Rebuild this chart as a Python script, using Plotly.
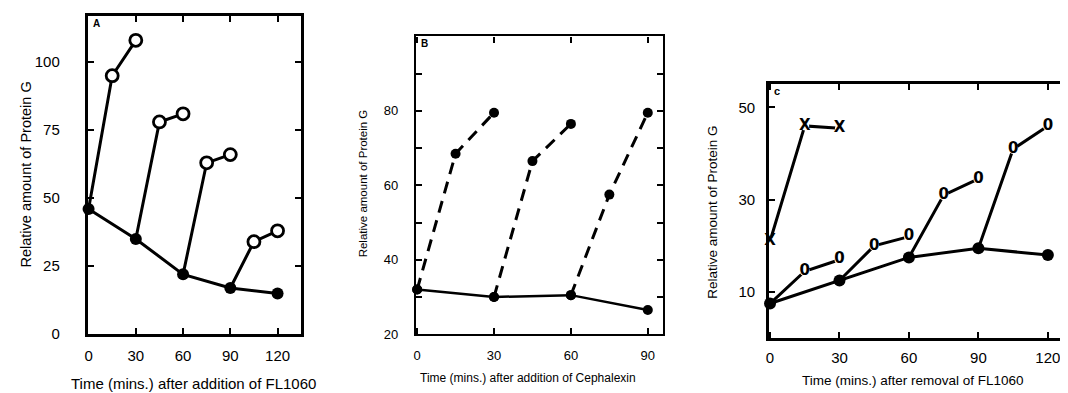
import plotly.graph_objects as go

W, H = 1068, 393

# ---------------- data ----------------
# Panel A: addition of FL1060
A_times = [0, 30, 60, 90, 120]
A_treated = [46, 35, 22, 17, 15]
A_branch_x = [[15, 30], [45, 60], [75, 90], [105, 120]]
A_branch_y = [[95, 108], [78, 81], [63, 66], [34, 38]]
A_xticks = [0, 30, 60, 90, 120]
A_xticklabels = ["0", "30", "60", "90", "120"]
A_yticks = [0, 25, 50, 75, 100]
A_yticklabels = ["0", "25", "50", "75", "100"]

# Panel B: addition of Cephalexin
B_times = [0, 30, 60, 90]
B_treated = [32, 30, 30.5, 26.5]
B_branch_x = [[15, 30], [45, 60], [75, 90]]
B_branch_y = [[68.5, 79.5], [66.5, 76.5], [57.5, 79.5]]
B_xticks = [0, 30, 60, 90]
B_xticklabels = ["0", "30", "60", "90"]
B_yticks = [20, 30, 40, 50, 60, 70, 80, 90]
B_yticklabels = ["20", "", "40", "", "60", "", "80", ""]

# Panel C: removal of FL1060
C_times = [0, 30, 60, 90, 120]
C_treated = [7.5, 12.5, 17.5, 19.5, 18]
C_branch_x = [[15, 30], [45, 60], [75, 90], [105, 120]]
C_branch_y = [[14.5, 17], [20, 22], [31, 34.5], [41, 46]]
C_x_x = [0, 15, 30]
C_x_y = [21, 46, 45.5]
C_xticks = [0, 30, 60, 90, 120]
C_xticklabels = ["0", "30", "60", "90", "120"]
C_yticks = [10, 30, 50]
C_yticklabels = ["10", "30", "50"]

FONT = "Liberation Sans"

def px_x(p):
    return p / W

def px_y(p):
    return 1 - p / H

fig = go.Figure()

# ---------- Panel A ----------
for i, (bx, by) in enumerate(zip(A_branch_x, A_branch_y)):
    fig.add_trace(go.Scatter(x=[A_times[i]] + bx, y=[A_treated[i]] + by, mode="lines",
                             line=dict(color="black", width=3), xaxis="x", yaxis="y",
                             showlegend=False, hoverinfo="skip", cliponaxis=False))
fig.add_trace(go.Scatter(x=A_times, y=A_treated, mode="lines+markers",
                         line=dict(color="black", width=3),
                         marker=dict(color="black", size=12, symbol="circle"),
                         xaxis="x", yaxis="y", showlegend=False, cliponaxis=False))
fig.add_trace(go.Scatter(x=[v for b in A_branch_x for v in b], y=[v for b in A_branch_y for v in b],
                         mode="markers",
                         marker=dict(color="white", size=12, symbol="circle",
                                     line=dict(color="black", width=2.8)),
                         xaxis="x", yaxis="y", showlegend=False, cliponaxis=False))

# ---------- Panel B ----------
for i, (bx, by) in enumerate(zip(B_branch_x, B_branch_y)):
    fig.add_trace(go.Scatter(x=[B_times[i]] + bx, y=[B_treated[i]] + by, mode="lines+markers",
                             line=dict(color="black", width=3, dash="12px,8px"),
                             marker=dict(color="black", size=10),
                             xaxis="x2", yaxis="y2", showlegend=False, cliponaxis=False))
fig.add_trace(go.Scatter(x=B_times, y=B_treated, mode="lines+markers",
                         line=dict(color="black", width=2.5),
                         marker=dict(color="black", size=10),
                         xaxis="x2", yaxis="y2", showlegend=False, cliponaxis=False))

# ---------- Panel C ----------
for i, (bx, by) in enumerate(zip(C_branch_x, C_branch_y)):
    fig.add_trace(go.Scatter(x=[C_times[i]] + bx, y=[C_treated[i]] + by, mode="lines",
                             line=dict(color="black", width=3),
                             xaxis="x3", yaxis="y3", showlegend=False, cliponaxis=False))
fig.add_trace(go.Scatter(x=C_x_x, y=C_x_y, mode="lines",
                         line=dict(color="black", width=3),
                         xaxis="x3", yaxis="y3", showlegend=False, cliponaxis=False))
fig.add_trace(go.Scatter(x=C_times, y=C_treated, mode="lines+markers",
                         line=dict(color="black", width=3),
                         marker=dict(color="black", size=12),
                         xaxis="x3", yaxis="y3", showlegend=False, cliponaxis=False))
fig.add_trace(go.Scatter(x=[v for b in C_branch_x for v in b], y=[v for b in C_branch_y for v in b],
                         mode="markers+text", text=["0"] * 8, textposition="middle center",
                         textfont=dict(family="DejaVu Sans", size=15, color="black", weight="bold"),
                         marker=dict(color="white", size=10),
                         xaxis="x3", yaxis="y3", showlegend=False, cliponaxis=False))
fig.add_trace(go.Scatter(x=C_x_x, y=C_x_y, mode="markers+text", text=["X"] * 3,
                         textposition="middle center",
                         textfont=dict(family="DejaVu Sans", size=15, color="black", weight="bold"),
                         marker=dict(color="white", size=9),
                         xaxis="x3", yaxis="y3", showlegend=False, cliponaxis=False))

def axis_common(lw):
    return dict(showline=True, linecolor="black", linewidth=lw, mirror="allticks",
                ticks="inside", ticklen=6, tickwidth=1.5, tickcolor="black",
                showgrid=False, zeroline=False, fixedrange=True)

fig.update_layout(
    width=W, height=H, margin=dict(l=0, r=0, t=0, b=0),
    paper_bgcolor="white", plot_bgcolor="white",
    font=dict(family=FONT, color="black"),
    xaxis=dict(domain=[px_x(77), px_x(291)], range=[-0.5, 135], anchor="y",
               tickvals=A_xticks, ticktext=A_xticklabels, tickfont=dict(size=15),
               ticklabelstandoff=6, **axis_common(3)),
    yaxis=dict(domain=[px_y(333), px_y(8)], range=[0, 117], anchor="x",
               tickvals=A_yticks, ticktext=A_yticklabels, tickfont=dict(size=15),
               ticklabelstandoff=22, **axis_common(3)),
    xaxis2=dict(domain=[px_x(406), px_x(654)], range=[-0.5, 96], anchor="y2",
                tickvals=B_xticks, ticktext=B_xticklabels, tickfont=dict(size=13),
                ticklabelstandoff=8, **axis_common(2.2)),
    yaxis2=dict(domain=[px_y(333), px_y(29)], range=[20, 100], anchor="x2",
                tickvals=B_yticks, ticktext=B_yticklabels, tickfont=dict(size=13),
                ticklabelstandoff=13, **axis_common(2.2)),
    xaxis3=dict(domain=[px_x(760), px_x(1063)], range=[-0.5, 130], anchor="y3",
                tickvals=C_xticks, ticktext=C_xticklabels, tickfont=dict(size=15),
                ticklabelstandoff=4, **axis_common(2.6)),
    yaxis3=dict(domain=[px_y(337), px_y(78)], range=[0, 55], anchor="x3",
                tickvals=C_yticks, ticktext=C_yticklabels, tickfont=dict(size=15),
                ticklabelstandoff=8, **axis_common(2.6)),
)

ann = []
def add_text(x, y, text, size, angle=0, bold=False, xanchor="center", yanchor="middle"):
    ann.append(dict(x=px_x(x), y=px_y(y), xref="paper", yref="paper", text=text,
                    showarrow=False, textangle=angle, xanchor=xanchor, yanchor=yanchor,
                    font=dict(size=size, family=FONT, color="black",
                              weight="bold" if bold else "normal")))

# axis titles
add_text(15, 170, "Relative amount of Protein G", 14.5, angle=-90)
add_text(183, 383, "Time (mins.) after addition of FL1060", 15)
add_text(353, 179, "Relative amount of Protein G", 11.5, angle=-90)
add_text(518, 378, "Time (mins.) after addition of Cephalexin", 12)
add_text(704, 209, "Relative amount of Protein G", 13.5, angle=-90)
add_text(905, 380, "Time (mins.) after removal of FL1060", 13.5)
# panel letters
add_text(80, 16, "A", 10, bold=True, xanchor="left")
add_text(409, 36, "B", 10, bold=True, xanchor="left")
add_text(763, 85, "c", 11, bold=True, xanchor="left")

fig.update_layout(annotations=ann)
fig.write_html("out.html")
